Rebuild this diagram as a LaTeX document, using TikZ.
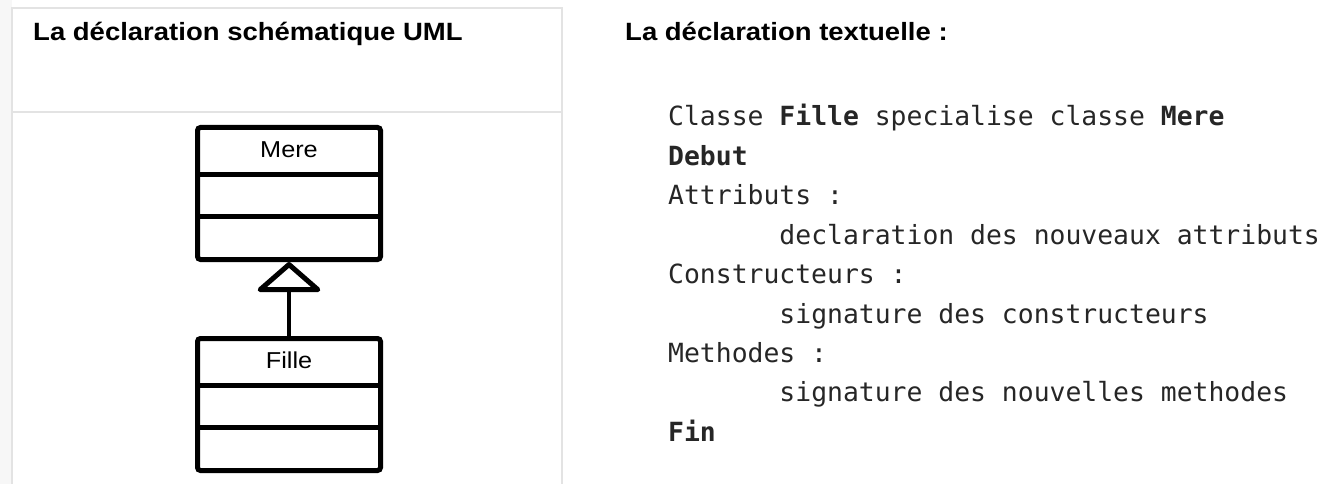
\documentclass[tikz,border=0pt]{standalone}
\usepackage{fontspec}
\setmainfont{Liberation Sans}
\newfontfamily\codefont{DejaVu Sans Mono}
\usetikzlibrary{arrows.meta,calc,positioning}

\tikzset{
  titre/.style={anchor=base west, inner sep=0pt, xscale=1.1, font=\fontsize{25}{30}\selectfont\bfseries},
  classe/.style={draw, line width=5pt, rounded corners=3pt, minimum width=183pt, minimum height=132pt, inner sep=0pt},
  nomclasse/.style={inner sep=0pt, xscale=1.1, font=\fontsize{23}{28}\selectfont},
  codeline/.style={anchor=base west, inner sep=0pt, text=black!85, font=\codefont\fontsize{26.4}{32}\selectfont},
  cadre/.style={draw=gray!22, line width=2pt},
}

\begin{document}
\begin{tikzpicture}[x=1pt, y=-1pt]
  \useasboundingbox (0,0) rectangle (1325,484);

  % cadre de gauche
  \fill[gray!6] (0,0) rectangle (12,484);
  \draw[cadre] (12,500) -- (12,8) -- (562,8) -- (562,500);
  \draw[cadre] (12,112) -- (562,112);

  % titres
  \node[titre] (titreuml) at (33,41) {La déclaration schématique UML};
  \node[titre] (titretexte) at (625,41) {La déclaration textuelle :};

  % classes UML
  \node[classe] (mere) at (289,193.5) {};
  \node[classe] (fille) at (289,404.5) {};
  \foreach \c in {mere,fille} {
    \draw[line width=5pt] ($(\c.north west)!0.36!(\c.south west)$) -- ($(\c.north east)!0.36!(\c.south east)$);
    \draw[line width=5pt] ($(\c.north west)!0.67!(\c.south west)$) -- ($(\c.north east)!0.67!(\c.south east)$);
  }
  \node[nomclasse] (nommere) at ($(mere.north)!0.18!(mere.south)$) {Mere};
  \node[nomclasse] (nomfille) at ($(fille.north)!0.18!(fille.south)$) {Fille};

  % heritage
  \draw[line width=3.5pt, -{Triangle[open, round, length=31pt, width=70pt, line width=5pt]}] (fille.north) -- (mere.south);

  % declaration textuelle
  \foreach \ligne [count=\i from 0] in {
      {Classe \textbf{Fille} specialise classe \textbf{Mere}},
      {\textbf{Debut}},
      {Attributs :},
      {\phantom{1234567}declaration des nouveaux attributs},
      {Constructeurs :},
      {\phantom{1234567}signature des constructeurs},
      {Methodes :},
      {\phantom{1234567}signature des nouvelles methodes},
      {\textbf{Fin}}}
    \node[codeline] (ligne\i) at (668,126+39.4*\i) {\ligne};
\end{tikzpicture}
\end{document}
